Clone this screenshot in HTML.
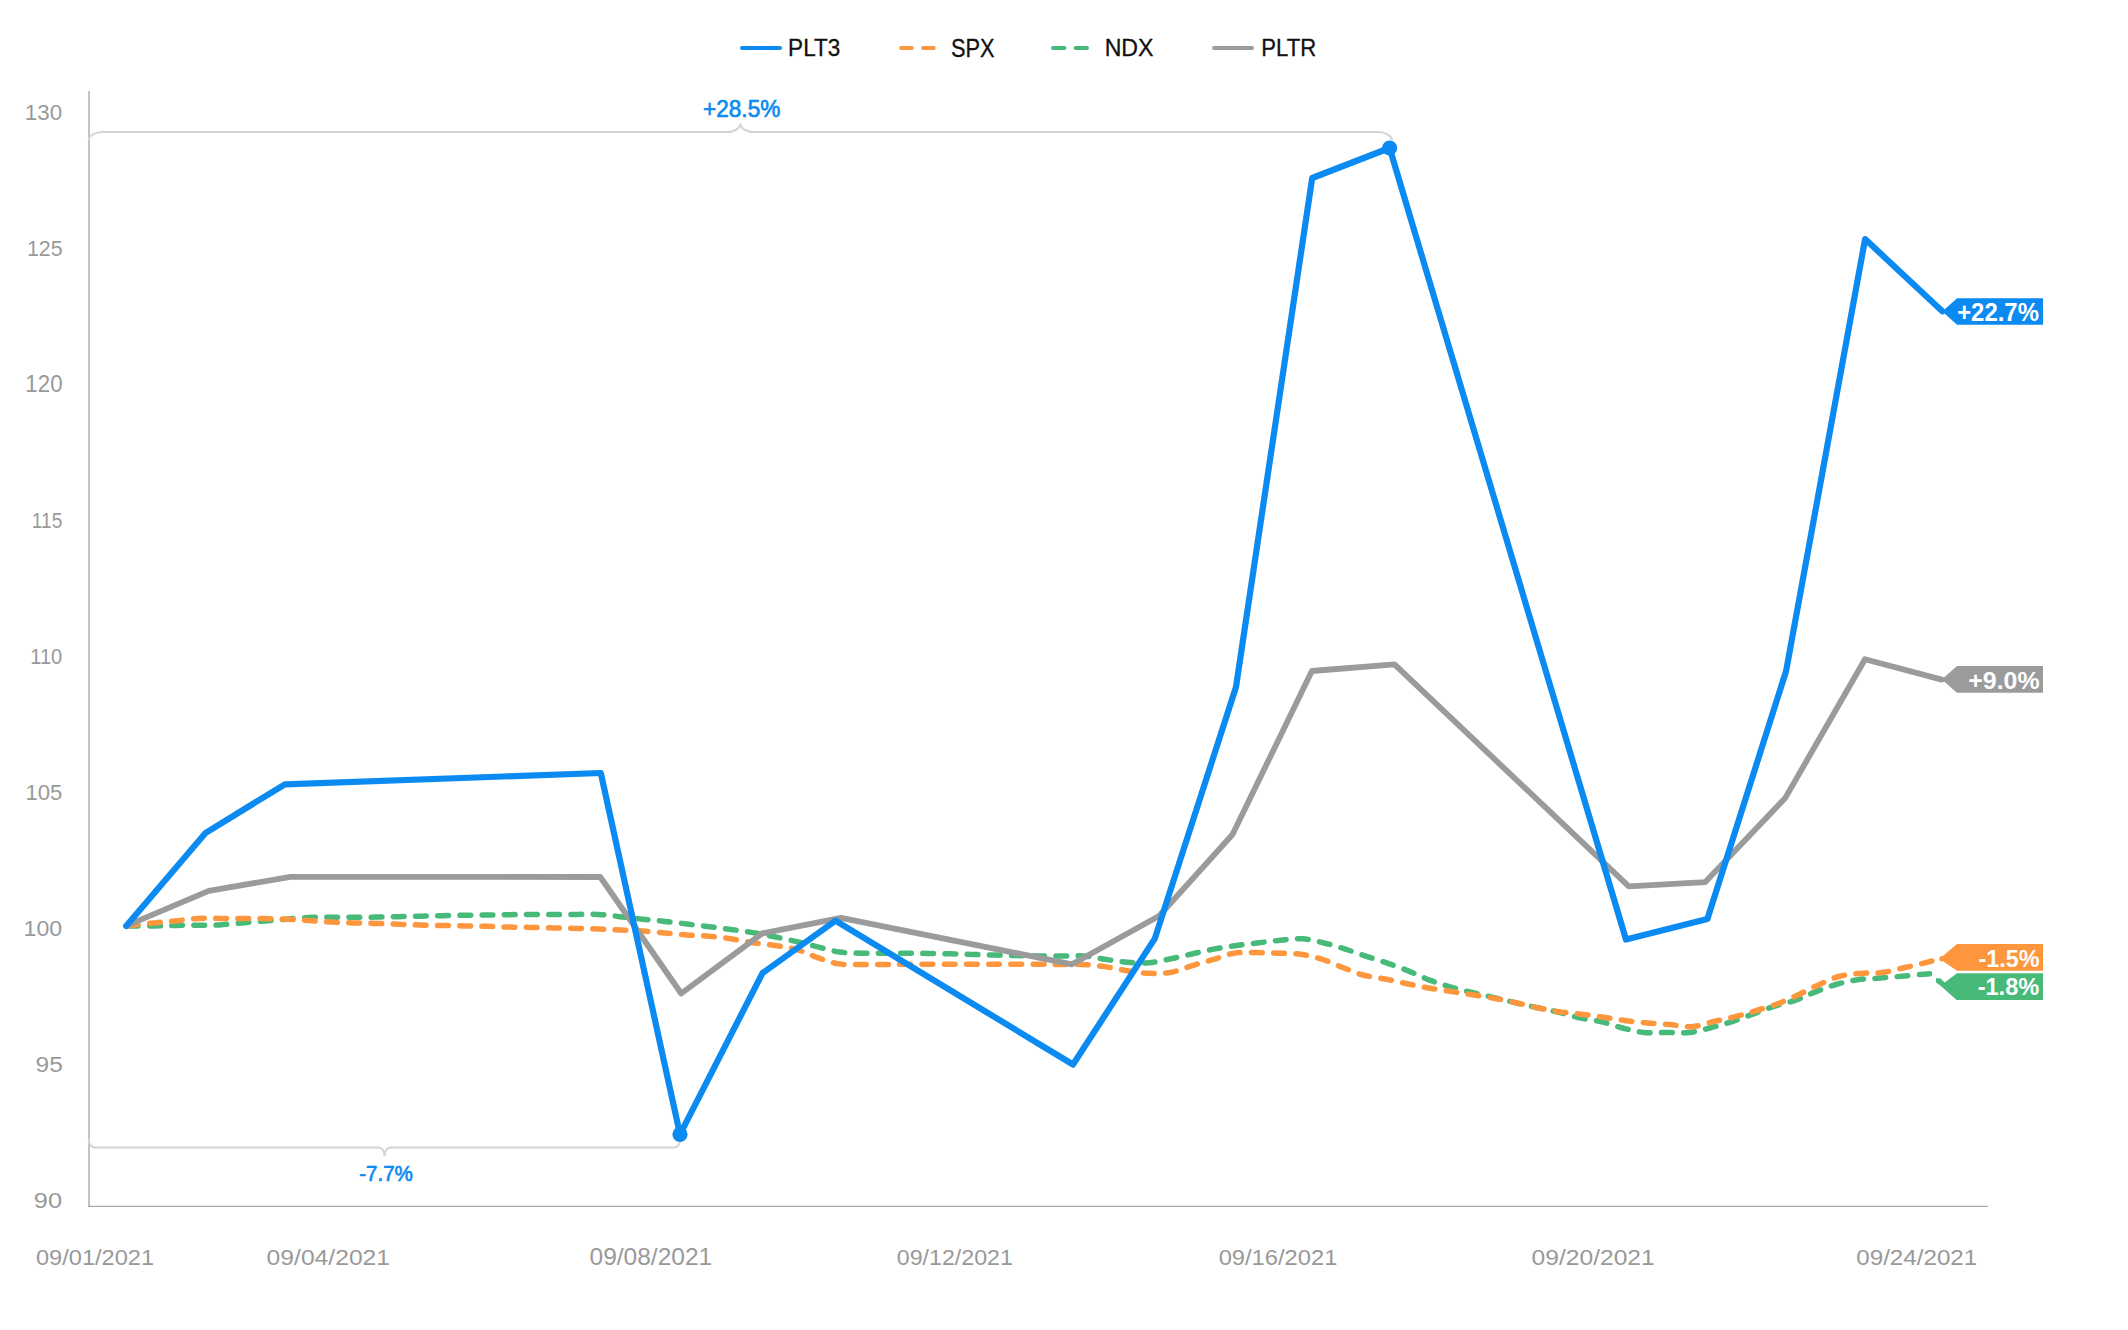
<!DOCTYPE html>
<html><head><meta charset="utf-8"><title>PLT3 vs SPX, NDX, PLTR</title><style>
html,body{margin:0;padding:0;background:#fff;width:2128px;height:1330px;overflow:hidden}
svg{display:block}
text{font-family:"Liberation Sans",sans-serif}
</style></head><body>
<svg width="2128" height="1330" viewBox="0 0 2128 1330">
<line x1="742" y1="48" x2="780" y2="48" stroke="#0b8af1" stroke-width="4" stroke-linecap="round"/>
<text x="788.12" y="56.1" textLength="52.17" lengthAdjust="spacingAndGlyphs" style="font-size:24.29px;font-weight:normal;fill:#111111;stroke:#111111;stroke-width:0.3px">PLT3</text>
<line x1="901" y1="48" x2="934" y2="48" stroke="#fd963d" stroke-width="4" stroke-linecap="round" stroke-dasharray="10.7 11.3"/>
<text x="951.07" y="56.6" textLength="43.56" lengthAdjust="spacingAndGlyphs" style="font-size:25.6px;font-weight:normal;fill:#111111;stroke:#111111;stroke-width:0.3px">SPX</text>
<line x1="1053" y1="48" x2="1087" y2="48" stroke="#47b979" stroke-width="4" stroke-linecap="round" stroke-dasharray="11.4 11.2"/>
<text x="1104.67" y="55.6" textLength="48.89" lengthAdjust="spacingAndGlyphs" style="font-size:24.29px;font-weight:normal;fill:#111111;stroke:#111111;stroke-width:0.3px">NDX</text>
<line x1="1214" y1="48" x2="1252" y2="48" stroke="#9b9b9b" stroke-width="4" stroke-linecap="round"/>
<text x="1261.25" y="56.2" textLength="54.88" lengthAdjust="spacingAndGlyphs" style="font-size:24.29px;font-weight:normal;fill:#111111;stroke:#111111;stroke-width:0.3px">PLTR</text>
<line x1="89" y1="91" x2="89" y2="1207" stroke="#a9a9a9" stroke-width="1.4"/>
<line x1="88" y1="1206.4" x2="1988" y2="1206.4" stroke="#a9a9a9" stroke-width="1.4"/>
<text x="24.83" y="120.2" textLength="37.21" lengthAdjust="spacingAndGlyphs" style="font-size:22.73px;font-weight:normal;fill:#999999">130</text>
<text x="26.88" y="256.2" textLength="35.69" lengthAdjust="spacingAndGlyphs" style="font-size:22.73px;font-weight:normal;fill:#999999">125</text>
<text x="25.37" y="392.2" textLength="37.21" lengthAdjust="spacingAndGlyphs" style="font-size:23.37px;font-weight:normal;fill:#999999">120</text>
<text x="31.82" y="528.2" textLength="30.45" lengthAdjust="spacingAndGlyphs" style="font-size:22.73px;font-weight:normal;fill:#999999">115</text>
<text x="30.26" y="664.2" textLength="31.91" lengthAdjust="spacingAndGlyphs" style="font-size:21.84px;font-weight:normal;fill:#999999">110</text>
<text x="25.53" y="800.2" textLength="36.84" lengthAdjust="spacingAndGlyphs" style="font-size:22.73px;font-weight:normal;fill:#999999">105</text>
<text x="23.63" y="936.2" textLength="38.55" lengthAdjust="spacingAndGlyphs" style="font-size:22.73px;font-weight:normal;fill:#999999">100</text>
<text x="35.58" y="1072.2" textLength="27.23" lengthAdjust="spacingAndGlyphs" style="font-size:22.73px;font-weight:normal;fill:#999999">95</text>
<text x="33.89" y="1208.2" textLength="28.22" lengthAdjust="spacingAndGlyphs" style="font-size:22.73px;font-weight:normal;fill:#999999">90</text>
<text x="35.93" y="1264.6" textLength="118.2" lengthAdjust="spacingAndGlyphs" style="font-size:22.47px;font-weight:normal;fill:#999999">09/01/2021</text>
<text x="266.6" y="1264.6" textLength="123.47" lengthAdjust="spacingAndGlyphs" style="font-size:22.29px;font-weight:normal;fill:#999999">09/04/2021</text>
<text x="589.52" y="1264.6" textLength="122.65" lengthAdjust="spacingAndGlyphs" style="font-size:24.74px;font-weight:normal;fill:#999999">09/08/2021</text>
<text x="896.83" y="1264.6" textLength="115.98" lengthAdjust="spacingAndGlyphs" style="font-size:21.98px;font-weight:normal;fill:#999999">09/12/2021</text>
<text x="1218.67" y="1264.6" textLength="118.67" lengthAdjust="spacingAndGlyphs" style="font-size:22.33px;font-weight:normal;fill:#999999">09/16/2021</text>
<text x="1531.61" y="1264.6" textLength="123.06" lengthAdjust="spacingAndGlyphs" style="font-size:22.47px;font-weight:normal;fill:#999999">09/20/2021</text>
<text x="1856.28" y="1264.6" textLength="121" lengthAdjust="spacingAndGlyphs" style="font-size:22.04px;font-weight:normal;fill:#999999">09/24/2021</text>
<path d="M88.6,140.6 A13.8,8.5 0 0 1 102.4,132.1 L726.5,132.1 A13.8,8.6 0 0 0 740.3,123.5 A13.8,8.6 0 0 0 754.1,132.1 L1378.2,132.1 A13.8,8.5 0 0 1 1392,140.6" fill="none" stroke="#d4d4d4" stroke-width="2.0"/>
<path d="M88.6,1138.6 A6,8.8 0 0 0 94.6,1147.4 L378.5,1147.4 A6,8.6 0 0 1 384.5,1156 A6,8.6 0 0 1 390.5,1147.4 L674.4,1147.4 A6,8.8 0 0 0 680.4,1138.6" fill="none" stroke="#d4d4d4" stroke-width="2.0"/>
<text x="702.97" y="117" textLength="77.38" lengthAdjust="spacingAndGlyphs" style="font-size:24.49px;font-weight:normal;fill:#0b8af1;stroke:#0b8af1;stroke-width:0.7px">+28.5%</text><text x="359.25" y="1180.62" textLength="53.63" lengthAdjust="spacingAndGlyphs" style="font-size:22.45px;font-weight:normal;fill:#0b8af1;stroke:#0b8af1;stroke-width:0.7px">-7.7%</text>
<path d="M126.2,925.9 C126.2,925.9 145.32,926.1 154,926 C161.65,925.91 168.37,925.52 175.6,925.4 C182.9,925.28 190.27,925.38 197.6,925.3 C204.93,925.22 212.28,925.3 219.6,924.9 C226.92,924.5 234.05,923.54 241.5,922.9 C249.24,922.24 257.52,921.63 265.2,921 C272.46,920.4 279.25,919.79 286.4,919.2 C293.71,918.59 301.15,917.73 308.6,917.4 C316.12,917.06 323.77,917.23 331.3,917.2 C338.77,917.17 346.18,917.22 353.6,917.2 C361.01,917.18 368.4,917.18 375.8,917.1 C383.2,917.02 390.64,916.85 398,916.7 C405.27,916.55 412.38,916.36 419.7,916.2 C427.21,916.03 434.88,915.87 442.5,915.7 C450.17,915.53 458.04,915.32 465.6,915.2 C472.89,915.09 479.89,915.08 487.1,915 C494.39,914.92 501.73,914.8 509.1,914.7 C516.56,914.6 524.09,914.45 531.6,914.4 C539.12,914.35 546.72,914.4 554.2,914.4 C561.58,914.4 568.87,914.4 576.2,914.4 C583.53,914.4 590.89,914.02 598.2,914.4 C605.52,914.78 612.74,915.91 620.1,916.7 C627.58,917.51 635.22,918.41 642.7,919.2 C650.08,919.98 657.36,920.6 664.7,921.4 C672.06,922.2 679.44,923.12 686.8,924 C694.14,924.88 701.48,925.8 708.8,926.7 C716.11,927.6 723.4,928.42 730.7,929.4 C738.03,930.38 745.38,931.37 752.7,932.6 C760.05,933.84 767.38,935.3 774.7,936.8 C782.04,938.3 789.53,939.92 796.7,941.6 C803.62,943.22 810.09,945 817,946.7 C824.18,948.47 831.62,950.92 839,952 C846.28,953.07 853.66,953 861,953.2 C868.33,953.4 875.62,953.18 883,953.2 C890.48,953.22 898.12,953.27 905.6,953.3 C912.98,953.33 920.27,953.32 927.6,953.4 C934.93,953.48 942.22,953.63 949.6,953.8 C957.08,953.97 964.68,954.18 972.2,954.4 C979.71,954.62 987.24,954.9 994.7,955.1 C1002.07,955.3 1009.37,955.47 1016.7,955.6 C1024.03,955.73 1031.37,955.82 1038.7,955.9 C1046.03,955.98 1053.37,956.1 1060.7,956.1 C1068.03,956.1 1075.39,955.39 1082.7,955.9 C1090.05,956.41 1097.35,958.15 1104.7,959.2 C1112.05,960.25 1119.43,961.6 1126.8,962.2 C1134.13,962.8 1141.5,963.36 1148.8,962.8 C1156.16,962.24 1163.49,960.3 1170.8,958.8 C1178.13,957.3 1185.39,955.45 1192.7,953.8 C1200.02,952.15 1207.34,950.29 1214.7,948.9 C1222.01,947.52 1229.36,946.52 1236.7,945.5 C1244.03,944.48 1251.37,943.68 1258.7,942.8 C1266.03,941.92 1273.36,940.87 1280.7,940.2 C1288.02,939.53 1295.45,938.33 1302.7,938.8 C1309.91,939.27 1317.02,941.29 1324.1,943 C1331.22,944.72 1338.26,946.88 1345.3,949.1 C1352.4,951.34 1359.45,954.04 1366.5,956.4 C1373.48,958.74 1380.42,960.78 1387.4,963.2 C1394.52,965.67 1401.75,968.28 1408.8,971.1 C1415.85,973.92 1422.73,977.44 1429.7,980.1 C1436.46,982.68 1443.06,984.86 1450,986.9 C1457.15,989 1464.66,990.71 1472,992.5 C1479.32,994.28 1486.72,995.89 1494,997.6 C1501.19,999.29 1508.21,1001.03 1515.4,1002.7 C1522.68,1004.39 1530.11,1006.09 1537.4,1007.7 C1544.58,1009.29 1551.74,1010.59 1558.8,1012.3 C1565.8,1013.99 1572.53,1016.33 1579.6,1017.9 C1586.8,1019.5 1594.42,1020.1 1601.6,1021.8 C1608.68,1023.48 1615.37,1026.22 1622.4,1028 C1629.47,1029.79 1636.61,1031.75 1643.9,1032.5 C1651.28,1033.26 1658.89,1032.5 1666.4,1032.5 C1673.92,1032.5 1681.66,1033.28 1689,1032.5 C1696.12,1031.74 1702.84,1029.75 1709.8,1028 C1716.94,1026.2 1724.13,1024.12 1731.3,1021.8 C1738.63,1019.43 1746.18,1016.5 1753.3,1013.9 C1760.05,1011.44 1766.16,1008.85 1773,1006.6 C1780.23,1004.22 1788.44,1002.61 1795.6,1000.1 C1802.33,997.74 1808.22,994.66 1814.8,992.1 C1821.64,989.45 1828.72,986.57 1835.9,984.5 C1843.09,982.43 1850.53,980.77 1857.9,979.7 C1865.2,978.64 1872.58,978.68 1879.9,978.1 C1887.21,977.52 1894.49,976.85 1901.8,976.2 C1909.13,975.55 1916.81,974.82 1923.8,974.2 C1930.15,973.63 1942,972.6 1942,972.6" fill="none" stroke="#47b979" stroke-width="5.5" stroke-dasharray="10.7 11.498" stroke-dashoffset="-1.14" stroke-linecap="round"/>
<path d="M126.2,925.9 C126.2,925.9 145.31,923.77 154,922.9 C161.65,922.13 168.37,921.65 175.6,920.9 C182.9,920.15 190.25,918.82 197.6,918.4 C204.92,917.99 212.28,918.4 219.6,918.4 C226.91,918.4 234.12,918.37 241.5,918.4 C249.05,918.43 256.83,918.46 264.4,918.6 C271.86,918.73 279.22,918.87 286.6,919.2 C293.95,919.53 301.21,920.12 308.6,920.6 C316.11,921.09 323.76,921.72 331.3,922.1 C338.76,922.48 346.17,922.68 353.6,922.9 C361.01,923.12 368.4,923.18 375.8,923.4 C383.2,923.62 390.64,923.93 398,924.2 C405.27,924.47 412.38,924.78 419.7,925 C427.21,925.22 434.91,925.35 442.5,925.5 C450.07,925.65 457.7,925.77 465.2,925.9 C472.57,926.03 479.79,926.1 487.1,926.3 C494.43,926.5 501.72,926.92 509.1,927.1 C516.56,927.29 524.09,927.25 531.6,927.4 C539.13,927.55 546.72,927.83 554.2,928 C561.58,928.17 568.87,928.23 576.2,928.4 C583.53,928.57 590.88,928.75 598.2,929 C605.51,929.25 612.74,929.57 620.1,929.9 C627.57,930.24 635.22,930.5 642.7,931 C650.09,931.5 657.37,932.23 664.7,932.9 C672.03,933.57 679.35,934.45 686.7,935 C694.05,935.55 701.46,935.57 708.8,936.2 C716.13,936.83 723.41,937.72 730.7,938.8 C738.04,939.89 745.35,941.58 752.7,942.7 C760.02,943.81 767.38,944.37 774.7,945.5 C782.05,946.63 789.61,947.49 796.7,949.5 C803.7,951.48 810.05,955.02 817,957.4 C824.14,959.84 831.59,962.72 839,963.9 C846.26,965.05 853.67,964.4 861,964.5 C868.33,964.6 875.62,964.53 883,964.5 C890.48,964.47 896.82,964.34 905.6,964.3 C917.85,964.25 934.84,964.3 949.6,964.3 C964.54,964.3 979.76,964.3 994.7,964.3 C1009.46,964.3 1026.55,964.24 1038.7,964.3 C1047.29,964.34 1053.37,964.47 1060.7,964.5 C1068.03,964.53 1075.37,964.15 1082.7,964.5 C1090.04,964.85 1097.38,965.57 1104.7,966.6 C1112.08,967.63 1119.42,969.58 1126.8,970.7 C1134.12,971.81 1141.46,973.02 1148.8,973.3 C1156.12,973.58 1163.6,973.67 1170.8,972.4 C1178.07,971.12 1185.05,967.77 1192.2,965.6 C1199.32,963.44 1206.57,961.49 1213.6,959.4 C1220.46,957.36 1226.92,954.34 1233.9,953.2 C1241.01,952.04 1248.52,952.6 1255.9,952.6 C1263.38,952.6 1270.98,952.92 1278.5,953.2 C1286.01,953.48 1293.64,953.25 1301,954.3 C1308.27,955.34 1315.43,957.2 1322.4,959.4 C1329.36,961.6 1335.99,964.89 1342.8,967.5 C1349.56,970.09 1356.11,973.09 1363.1,975 C1370.2,976.94 1377.78,977.55 1385.1,979 C1392.44,980.45 1399.81,982.19 1407.1,983.7 C1414.28,985.19 1421.3,986.72 1428.5,988 C1435.77,989.29 1443.17,990.27 1450.5,991.4 C1457.83,992.53 1465.22,993.66 1472.5,994.8 C1479.68,995.93 1486.73,996.9 1493.9,998.2 C1501.2,999.53 1508.62,1001.11 1515.9,1002.7 C1523.12,1004.28 1530.23,1006.2 1537.4,1007.7 C1544.53,1009.19 1551.56,1010.62 1558.8,1011.7 C1566.19,1012.8 1573.81,1013.27 1581.3,1014.2 C1588.81,1015.13 1596.35,1016.21 1603.8,1017.3 C1611.18,1018.38 1618.45,1019.77 1625.8,1020.7 C1633.12,1021.63 1640.46,1022.25 1647.8,1022.9 C1655.13,1023.55 1662.47,1023.97 1669.8,1024.6 C1677.14,1025.23 1684.51,1027.2 1691.8,1026.7 C1699.18,1026.19 1706.51,1023.18 1713.8,1021.5 C1720.98,1019.85 1728.09,1018.52 1735.2,1016.7 C1742.36,1014.86 1749.52,1012.66 1756.6,1010.5 C1763.62,1008.36 1770.6,1006.39 1777.5,1003.8 C1784.53,1001.17 1791.55,997.97 1798.4,994.8 C1805.18,991.66 1811.66,987.96 1818.4,984.9 C1825.09,981.86 1831.74,978.42 1838.7,976.5 C1845.58,974.61 1852.75,974.05 1859.9,973.4 C1867.15,972.74 1874.62,973.52 1881.9,972.6 C1889.25,971.67 1896.5,969.46 1903.8,967.8 C1911.13,966.13 1919.28,964.24 1925.8,962.6 C1931.06,961.27 1940,958.8 1940,958.8" fill="none" stroke="#fd963d" stroke-width="5.5" stroke-dasharray="10.7 11.498" stroke-dashoffset="-1.14" stroke-linecap="round"/>
<path d="M126.2,925.9 L208.8,890.9 L290.5,876.8 L600.3,877 L681.2,993.5 L762.3,933.3 L841,917.8 L1072,964.3 L1159,916 L1232.5,834.5 L1311.9,671 L1394.5,664.4 L1628.8,886.3 L1705.3,882.1 L1785.3,797.9 L1865,659.3 L1941.8,679.6" fill="none" stroke="#9b9b9b" stroke-width="5.8" stroke-linejoin="round" stroke-linecap="round"/>
<path d="M126.2,925.9 L205.7,832.8 L284.9,784.3 L600.8,773 L680,1134.3 L762.5,973.1 L835.4,920.7 L1073,1064.5 L1154.8,938.6 L1236,687 L1312.2,178 L1389.6,148 L1626,939.5 L1707.4,919 L1786.1,671 L1865.1,239.1 L1942.3,311.3" fill="none" stroke="#0b8af1" stroke-width="6.2" stroke-linejoin="round" stroke-linecap="round"/>
<circle cx="1389.6" cy="148" r="7.6" fill="#0b8af1"/>
<circle cx="680" cy="1134.3" r="7.6" fill="#0b8af1"/>
<path d="M1942.3,311.5 L1957,298.2 L2043,298.2 L2043,324.8 L1957,324.8 Z" fill="#0b8af1"/><text x="1957.16" y="320.6" textLength="81.75" lengthAdjust="spacingAndGlyphs" style="font-size:25.19px;font-weight:bold;fill:#ffffff">+22.7%</text>
<path d="M1941.8,679.4 L1957,666 L2043,666 L2043,692.7 L1957,692.7 Z" fill="#9b9b9b"/><text x="1968.29" y="688.72" textLength="71.34" lengthAdjust="spacingAndGlyphs" style="font-size:24.51px;font-weight:bold;fill:#ffffff">+9.0%</text>
<path d="M1957,973.2 L2043,973.2 L2043,1000 L1956.6,1000 L1940.3,985.5 L1936,982.4 L1936,978.2 L1940.3,978.2 L1944.7,982.6 Z" fill="#47b979"/><text x="1977.66" y="994.8" textLength="61.55" lengthAdjust="spacingAndGlyphs" style="font-size:24.6px;font-weight:bold;fill:#ffffff">-1.8%</text>
<rect x="1932" y="966" width="14" height="10.5" fill="#fff"/>
<circle cx="1942" cy="958.8" r="2.75" fill="#fd963d"/>
<path d="M1939.5,958.8 L1957,943.9 L2043,943.9 L2043,970.8 L1957,970.8 Z" fill="#fd963d"/><text x="1978.44" y="966.62" textLength="61.12" lengthAdjust="spacingAndGlyphs" style="font-size:23.1px;font-weight:bold;fill:#ffffff">-1.5%</text>
</svg>
</body></html>
